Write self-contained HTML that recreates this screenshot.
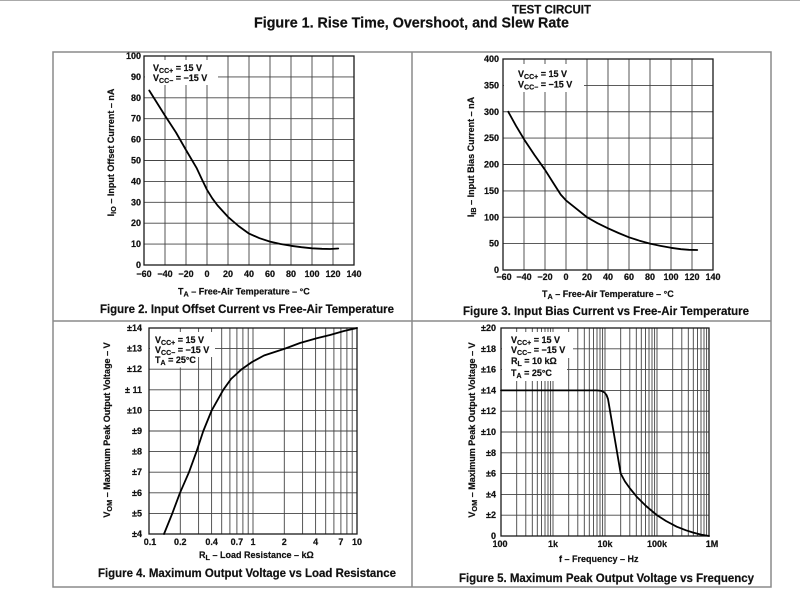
<!DOCTYPE html>
<html><head><meta charset="utf-8"><style>
html,body{margin:0;padding:0;background:#fff;}
svg{display:block;}
text{font-family:"Liberation Sans",Arial,sans-serif;font-weight:bold;fill:#111;stroke:#111;stroke-width:0.2;}
.tk{font-size:9px;}
.ax{font-size:9px;}
.lg{font-size:9px;}
.ttl{font-size:11.5px;}
.g{stroke:#444;stroke-width:0.9;fill:none;}
.bd{stroke:#1a1a1a;stroke-width:1.3;fill:none;}
.cv{stroke:#000;stroke-width:1.8;fill:none;stroke-linejoin:round;stroke-linecap:round;}
</style></head><body>
<svg width="800" height="614" viewBox="0 0 800 614" xmlns="http://www.w3.org/2000/svg">
<rect width="800" height="614" fill="#fff"/>
<line x1="0" y1="0.5" x2="800" y2="0.5" stroke="#aaa" stroke-width="1"/>
<text x="512" y="13.3" class="ttl" textLength="79" lengthAdjust="spacingAndGlyphs">TEST CIRCUIT</text>
<text x="254" y="27.5" style="font-size:14.3px" textLength="315" lengthAdjust="spacingAndGlyphs">Figure 1. Rise Time, Overshoot, and Slew Rate</text>

<!-- outer frame -->
<rect x="53" y="52" width="718" height="535" fill="none" stroke="#8a8a8a" stroke-width="1.5"/>
<line x1="412" y1="52" x2="412" y2="587" stroke="#8a8a8a" stroke-width="1.5"/>
<line x1="53" y1="321" x2="771" y2="321" stroke="#8a8a8a" stroke-width="1.5"/>

<!-- ============ CHART 1 ============ -->
<path class="g" d="M165 56V265M186 56V265M207 56V265M228 56V265M249 56V265M270 56V265M291 56V265M312 56V265M333 56V265
M144 244.1H354M144 223.2H354M144 202.3H354M144 181.4H354M144 160.5H354M144 139.6H354M144 118.7H354M144 97.8H354M144 76.9H354"/>
<rect x="145" y="60" width="73" height="25" fill="#fff"/>
<rect class="bd" x="144" y="56" width="210" height="209"/>
<polyline class="cv" points="149.25,90.5 165,115.6 176,132.5 186,150 196.5,167.8 201.75,179 207,189.8 212.25,198.3 217.5,205.4 228,216.9 238.5,226 249,233.6 259.5,238.2 270,241.6 280.5,244 291,245.8 301.5,247.2 312,248.3 322,248.8 330,249 338.25,248.5"/>
<text class="lg" x="153" y="71">V<tspan font-size="7" dy="2">CC+</tspan><tspan dy="-2"> = 15 V</tspan></text>
<text class="lg" x="153" y="81">V<tspan font-size="7" dy="2">CC−</tspan><tspan dy="-2"> = −15 V</tspan></text>
<g class="tk" text-anchor="end">
<text x="141" y="268">0</text><text x="141" y="247.1">10</text><text x="141" y="226.2">20</text><text x="141" y="205.3">30</text><text x="141" y="184.4">40</text><text x="141" y="163.5">50</text><text x="141" y="142.6">60</text><text x="141" y="121.7">70</text><text x="141" y="100.8">80</text><text x="141" y="79.9">90</text><text x="141" y="59">100</text>
</g>
<g class="tk" text-anchor="middle">
<text x="144" y="277">−60</text><text x="165" y="277">−40</text><text x="186" y="277">−20</text><text x="207" y="277">0</text><text x="228" y="277">20</text><text x="249" y="277">40</text><text x="270" y="277">60</text><text x="291" y="277">80</text><text x="312" y="277">100</text><text x="333" y="277">120</text><text x="354" y="277">140</text>
</g>
<text class="ax" x="178" y="294.5">T<tspan font-size="7.3" dy="2">A</tspan><tspan dy="-2"> – Free-Air Temperature – °C</tspan></text>
<text class="ax" transform="translate(114,152.5) rotate(-90)" text-anchor="middle">I<tspan font-size="7.3" dy="2">IO</tspan><tspan dy="-2"> – Input Offset Current – nA</tspan></text>
<text x="100" y="313" class="ttl" textLength="294" lengthAdjust="spacingAndGlyphs">Figure 2. Input Offset Current vs Free-Air Temperature</text>

<!-- ============ CHART 2 ============ -->
<path class="g" d="M524 59V270M545 59V270M566 59V270M587 59V270M608 59V270M629 59V270M650 59V270M671 59V270M692 59V270
M503 243.6H713M503 217.25H713M503 190.9H713M503 164.5H713M503 138.1H713M503 111.75H713M503 85.4H713"/>
<rect x="504" y="64" width="80" height="28" fill="#fff"/>
<rect class="bd" x="503" y="59" width="210" height="211"/>
<polyline class="cv" points="508.25,111.75 516,125.8 524,139.2 534.5,155 545,169.8 553,182.5 560.75,194.6 566,200.4 576.5,208.8 587,217.25 597.5,223.2 608,228.3 618.5,233 629,237.3 639.5,240.7 650,243.6 660.5,245.9 671,247.8 681,249.2 689,249.8 697.25,250"/>
<text class="lg" x="518" y="77">V<tspan font-size="7" dy="2">CC+</tspan><tspan dy="-2"> = 15 V</tspan></text>
<text class="lg" x="518" y="87.3">V<tspan font-size="7" dy="2">CC−</tspan><tspan dy="-2"> = −15 V</tspan></text>
<g class="tk" text-anchor="end">
<text x="499" y="273">0</text><text x="499" y="246.6">50</text><text x="499" y="220.3">100</text><text x="499" y="193.9">150</text><text x="499" y="167.5">200</text><text x="499" y="141.1">250</text><text x="499" y="114.8">300</text><text x="499" y="88.4">350</text><text x="499" y="62">400</text>
</g>
<g class="tk" text-anchor="middle">
<text x="504" y="280">−60</text><text x="524" y="280">−40</text><text x="545" y="280">−20</text><text x="566" y="280">0</text><text x="587" y="280">20</text><text x="608" y="280">40</text><text x="629" y="280">60</text><text x="650" y="280">80</text><text x="671" y="280">100</text><text x="692" y="280">120</text><text x="713" y="280">140</text>
</g>
<text class="ax" x="542" y="297">T<tspan font-size="7.3" dy="2">A</tspan><tspan dy="-2"> – Free-Air Temperature – °C</tspan></text>
<text class="ax" transform="translate(474,157) rotate(-90)" text-anchor="middle">I<tspan font-size="7.3" dy="2">IB</tspan><tspan dy="-2"> – Input Bias Current – nA</tspan></text>
<text x="463" y="315" class="ttl" textLength="286" lengthAdjust="spacingAndGlyphs">Figure 3. Input Bias Current vs Free-Air Temperature</text>

<!-- ============ CHART 3 ============ -->
<path class="g" d="M180.3 328V534M198.6 328V534M211.6 328V534M221.7 328V534M229.9 328V534M236.9 328V534M242.9 328V534M248.2 328V534M253 328V534
M284.3 328V534M302.6 328V534M315.6 328V534M325.7 328V534M333.9 328V534M340.9 328V534M346.9 328V534M352.2 328V534
M149 513.4H357M149 492.8H357M149 472.2H357M149 451.6H357M149 431H357M149 410.4H357M149 389.8H357M149 369.2H357M149 348.6H357"/>
<rect x="150" y="332" width="65" height="25" fill="#fff"/>
<rect x="150" y="356" width="47" height="11.5" fill="#fff"/>
<rect class="bd" x="149" y="328" width="208" height="206"/>
<polyline class="cv" points="164,534 172.3,513.4 180,492.8 189,472.2 196.5,451.6 203.3,431 211.7,410.4 223.3,389.8 231,379 241.7,369.2 252,362 264,355.5 285,348.6 300,343 316.7,338.3 330,335 344,331 357,328"/>
<text class="lg" x="155" y="343">V<tspan font-size="7" dy="2">CC+</tspan><tspan dy="-2"> = 15 V</tspan></text>
<text class="lg" x="155" y="353">V<tspan font-size="7" dy="2">CC−</tspan><tspan dy="-2"> = −15 V</tspan></text>
<text class="lg" x="155" y="363">T<tspan font-size="7" dy="2">A</tspan><tspan dy="-2"> = 25°C</tspan></text>
<g class="tk" text-anchor="end">
<text x="142" y="537">±4</text><text x="142" y="516.4">±5</text><text x="142" y="495.8">±6</text><text x="142" y="475.2">±7</text><text x="142" y="454.6">±8</text><text x="142" y="434">±9</text><text x="142" y="413.4">±10</text><text x="142" y="392.8">± 11</text><text x="142" y="372.2">±12</text><text x="142" y="351.6">±13</text><text x="142" y="331">±14</text>
</g>
<g class="tk" text-anchor="middle">
<text x="150" y="545">0.1</text><text x="180.3" y="545">0.2</text><text x="211.6" y="545">0.4</text><text x="236.9" y="545">0.7</text><text x="253" y="545">1</text><text x="284.3" y="545">2</text><text x="315.6" y="545">4</text><text x="340.9" y="545">7</text><text x="357" y="545">10</text>
</g>
<text class="ax" x="199" y="558">R<tspan font-size="7.3" dy="2">L</tspan><tspan dy="-2"> – Load Resistance – kΩ</tspan></text>
<text class="ax" transform="translate(110,430) rotate(-90)" text-anchor="middle">V<tspan font-size="7.3" dy="2">OM</tspan><tspan dy="-2"> – Maximum Peak Output Voltage – V</tspan></text>
<text x="98" y="577" class="ttl" textLength="298" lengthAdjust="spacingAndGlyphs">Figure 4. Maximum Output Voltage vs Load Resistance</text>

<!-- ============ CHART 4 ============ -->
<path class="g" d="M516.7 328V536M525.8 328V536M532.3 328V536M537.3 328V536M541.5 328V536M545 328V536M548 328V536M550.6 328V536M553 328V536
M568.7 328V536M577.8 328V536M584.3 328V536M589.3 328V536M593.5 328V536M597 328V536M600 328V536M602.6 328V536M605 328V536
M620.7 328V536M629.8 328V536M636.3 328V536M641.3 328V536M645.5 328V536M649 328V536M652 328V536M654.6 328V536M657 328V536
M672.7 328V536M681.8 328V536M688.3 328V536M693.3 328V536M697.5 328V536M701 328V536M704 328V536M706.6 328V536
M501 515.2H709M501 494.4H709M501 473.6H709M501 452.8H709M501 432H709M501 411.2H709M501 390.4H709M501 369.6H709M501 348.8H709"/>
<rect x="502" y="332" width="71" height="26" fill="#fff"/>
<rect x="502" y="357" width="65" height="24" fill="#fff"/>
<rect class="bd" x="501" y="328" width="208" height="208"/>
<polyline class="cv" points="501,390.4 597,390.4 601.5,390.9 604.5,392.5 606.5,395 608,399 620.7,473.6 625,481.5 630,488.5 636.7,496.7 646,506 656.7,515 666,521 676.7,526.7 686,530.3 693.3,532.6 701,534.6 709,536"/>
<text class="lg" x="511" y="343">V<tspan font-size="7" dy="2">CC+</tspan><tspan dy="-2"> = 15 V</tspan></text>
<text class="lg" x="511" y="353">V<tspan font-size="7" dy="2">CC−</tspan><tspan dy="-2"> = −15 V</tspan></text>
<text class="lg" x="511" y="364">R<tspan font-size="7" dy="2">L</tspan><tspan dy="-2"> = 10 kΩ</tspan></text>
<text class="lg" x="511" y="376">T<tspan font-size="7" dy="2">A</tspan><tspan dy="-2"> = 25°C</tspan></text>
<g class="tk" text-anchor="end">
<text x="496" y="539">0</text><text x="496" y="518.2">±2</text><text x="496" y="497.4">±4</text><text x="496" y="476.6">±6</text><text x="496" y="455.8">±8</text><text x="496" y="435">±10</text><text x="496" y="414.2">±12</text><text x="496" y="393.4">±14</text><text x="496" y="372.6">±16</text><text x="496" y="351.8">±18</text><text x="496" y="331">±20</text>
</g>
<g class="tk" text-anchor="middle">
<text x="500" y="547">100</text><text x="553" y="547">1k</text><text x="605" y="547">10k</text><text x="657" y="547">100k</text><text x="712" y="547">1M</text>
</g>
<text class="ax" x="559" y="562">f – Frequency – Hz</text>
<text class="ax" transform="translate(475,430) rotate(-90)" text-anchor="middle">V<tspan font-size="7.3" dy="2">OM</tspan><tspan dy="-2"> – Maximum Peak Output Voltage – V</tspan></text>
<text x="459" y="582" class="ttl" textLength="295" lengthAdjust="spacingAndGlyphs">Figure 5. Maximum Peak Output Voltage vs Frequency</text>
</svg>
</body></html>
